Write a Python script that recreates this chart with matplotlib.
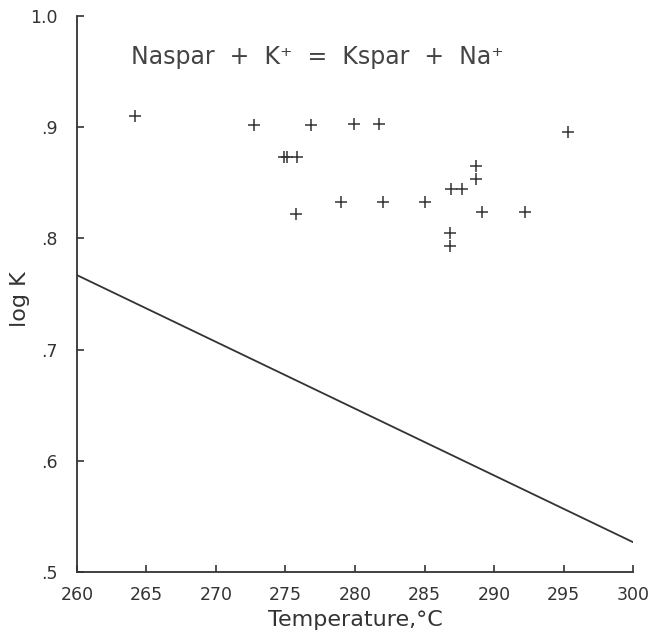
import matplotlib
matplotlib.use("Agg")
import matplotlib.pyplot as plt

# measured points (temperature, log K)
temp = [264.2, 272.7, 276.8, 279.95, 281.75, 295.3,
        274.9, 275.1, 275.8, 275.75,
        288.7, 288.7, 286.9, 287.7,
        279.0, 282.0, 285.0, 289.1, 292.2,
        286.8, 286.8]
logk = [0.910, 0.902, 0.902, 0.903, 0.903, 0.896,
        0.873, 0.873, 0.873, 0.822,
        0.865, 0.853, 0.844, 0.844,
        0.833, 0.833, 0.833, 0.824, 0.824,
        0.805, 0.793]

# equilibrium line
line_t = [260, 300]
line_k = [0.767, 0.527]

xticks = [260, 265, 270, 275, 280, 285, 290, 295, 300]
yticks = [0.5, 0.6, 0.7, 0.8, 0.9, 1.0]
ylabels = [".5", ".6", ".7", ".8", ".9", "1.0"]

ink = "#333333"
plt.rcParams["font.family"] = ["DejaVu Sans"]

fig = plt.figure(figsize=(6.52, 6.33), dpi=100)
ax = fig.add_axes([0.118, 0.096, 0.853, 0.879])

ax.plot(line_t, line_k, color=ink, lw=1.3)
ax.plot(temp, logk, "+", color=ink, ms=8, mew=1.1, linestyle="none")

ax.set_xlim(260, 300)
ax.set_ylim(0.5, 1.0)
ax.spines["top"].set_visible(False)
ax.spines["right"].set_visible(False)
for s in ("left", "bottom"):
    ax.spines[s].set_color(ink)
    ax.spines[s].set_linewidth(1.3)

ax.set_xticks(xticks)
ax.set_xticklabels([str(t) for t in xticks])
ax.set_yticks(yticks)
ax.set_yticklabels(ylabels)
ax.tick_params(direction="in", length=5, width=1.2, color=ink,
               labelcolor=ink, labelsize=12.5)
ax.tick_params(axis="x", pad=10)
ax.tick_params(axis="y", pad=14)

ax.set_xlabel("Temperature,\u00b0C", fontsize=16, color=ink, labelpad=4)
ax.set_ylabel("log K", fontsize=16, color=ink)
ax.yaxis.set_label_coords(-0.085, 0.49)

ax.text(0.432, 0.926, "Naspar  +  K\u207a  =  Kspar  +  Na\u207a",
        fontsize=17, color="#444444", ha="center", va="center",
        transform=ax.transAxes)

fig.savefig("out.png", dpi=100)
